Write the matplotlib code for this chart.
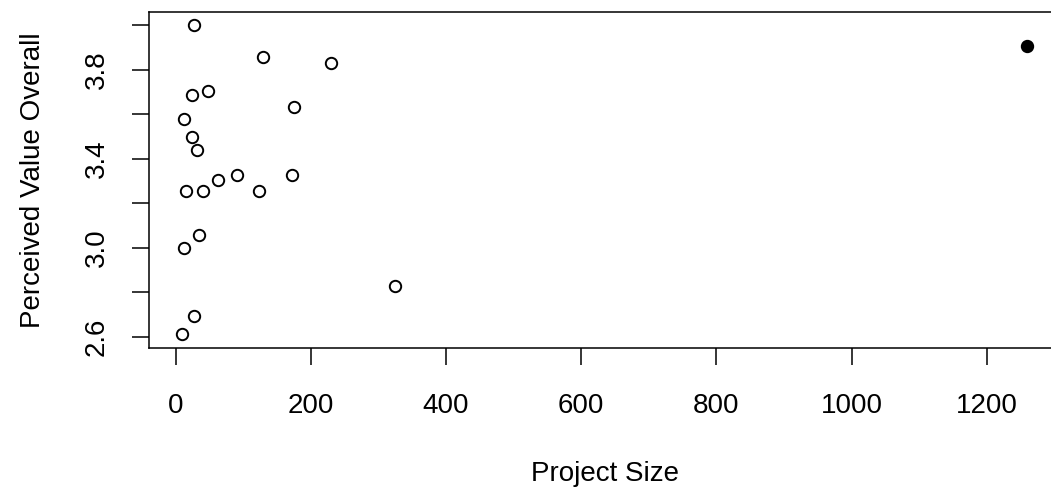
import matplotlib
matplotlib.use('agg')
import matplotlib.pyplot as plt
import numpy as np

# project size vs perceived value
project_size = [27, 129, 230, 24, 48, 175, 13, 24, 32, 90, 172, 62,
                15, 40, 123, 35, 13, 324, 27, 10]
perceived_value = [4.0, 3.855, 3.83, 3.687, 3.705, 3.63, 3.579, 3.497,
                   3.437, 3.327, 3.327, 3.302, 3.253, 3.253, 3.253,
                   3.059, 3.0, 2.826, 2.692, 2.61]
# the one highlighted (filled) project
big_size = [1260]
big_value = [3.907]

x_ticks = [0, 200, 400, 600, 800, 1000, 1200]
y_ticks = [2.6, 2.8, 3.0, 3.2, 3.4, 3.6, 3.8, 4.0]
y_labels = ['2.6', '', '3.0', '', '3.4', '', '3.8', '']


def main():
    plt.rcParams['font.family'] = ['Liberation Sans', 'DejaVu Sans']
    fig = plt.figure(figsize=(10.51, 4.91), dpi=100)
    ax = fig.add_axes([149 / 1051, 143.3 / 491, 912 / 1051, 335.4 / 491])

    ax.plot(project_size, perceived_value, 'o', ms=8.2, mfc='white',
            mec='black', mew=1.4, ls='none')
    ax.plot(big_size, big_value, 'o', ms=8.2, mfc='black', mec='black',
            mew=1.4, ls='none')

    ax.set_xlim(-39.5, 1310)
    ax.set_ylim(2.5506, 4.057)
    ax.set_xticks(x_ticks)
    ax.set_xticklabels([str(t) for t in x_ticks])
    ax.set_yticks(y_ticks)
    ax.set_yticklabels(y_labels, rotation=90, va='center')

    ax.tick_params(axis='both', direction='out', length=12.5, width=1.1,
                   labelsize=20, colors='black')
    ax.tick_params(axis='x', pad=20)
    ax.tick_params(axis='y', pad=16)
    for s in ax.spines.values():
        s.set_linewidth(1.1)

    ax.set_xlabel('Project Size', fontsize=20, va='center')
    ax.xaxis.set_label_coords(0.5, -0.377)
    ax.set_ylabel('Perceived Value Overall', fontsize=20, va='center')
    ax.yaxis.set_label_coords(-0.1275, 0.5)

    fig.savefig('out.png', dpi=100)
    plt.close(fig)


if __name__ == "__main__":
    main()
